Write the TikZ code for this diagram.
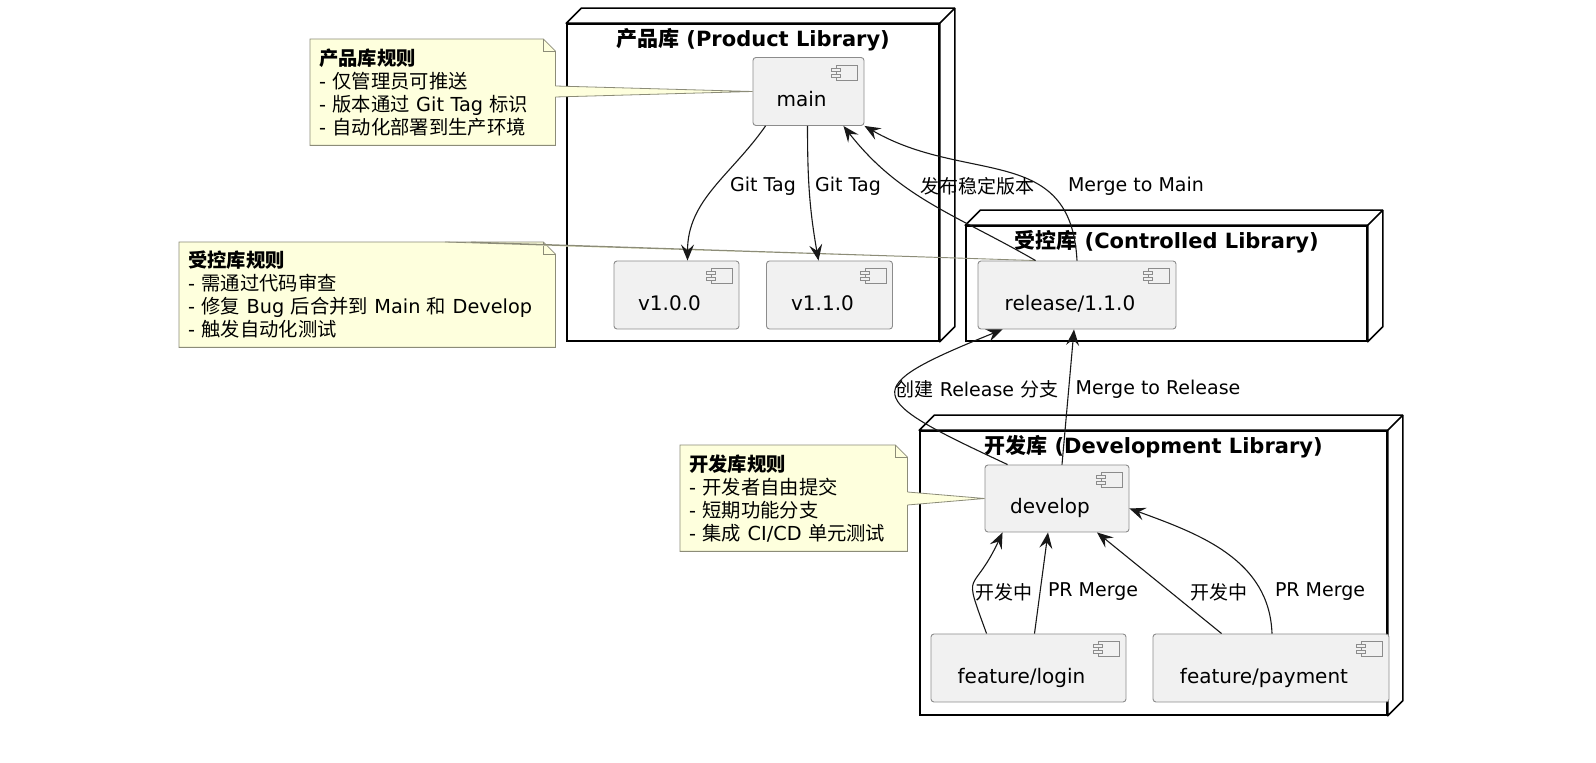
\documentclass[tikz,border=0pt]{standalone}
\usepackage{fontspec}
\setmainfont{DejaVu Sans}
\newfontfamily\cjk{Noto Sans CJK SC}
\usetikzlibrary{arrows.meta}
\newcommand{\zh}[1]{{\cjk #1}}

\begin{document}
\begin{tikzpicture}[x=1pt, y=1pt, every node/.style={font=\fontsize{20}{24}\selectfont}]
			% Define colors
			\definecolor{compfill}{RGB}{241, 241, 241}
			\definecolor{compline}{RGB}{140, 140, 140}
			\definecolor{notefill}{RGB}{254, 255, 221}
			\definecolor{noteline}{RGB}{140, 140, 120}
			\definecolor{edgeline}{RGB}{24, 24, 24}

			% Styles
			\tikzstyle{lib_box} = [draw=black, line width=1.6pt, fill=white, inner sep=0pt]
			\tikzstyle{lib_title} = [font=\fontsize{21}{24}\selectfont\bfseries, anchor=center]
			\tikzstyle{comp_box} = [draw=compline, fill=compfill, line width=0.9pt, rounded corners=3pt, minimum height=68pt, text height=36pt, text depth=5pt, inner sep=0pt]
			\tikzstyle{note_box} = [fill=notefill, anchor=north west, align=left, inner xsep=9pt, inner ysep=0pt, font=\fontsize{19.3}{23}\selectfont]
			\tikzstyle{edge_label} = [font=\fontsize{19}{22}\selectfont, inner sep=1pt]
			\tikzstyle{flow} = [draw=edgeline, line width=1.1pt, -{Stealth[length=16pt, width=13pt, inset=6pt]}]
			\tikzstyle{note_line} = [draw=noteline, line width=0.8pt]

			\useasboundingbox (0, 0) rectangle (1596, 763);

			% Library frames (front faces)
			\node[lib_box, minimum width=372pt, minimum height=317pt] (prodlib) at (753, 580.5) {};
			\node[lib_box, minimum width=401pt, minimum height=115pt] (ctrllib) at (1166.5, 479.5) {};
			\node[lib_box, minimum width=467pt, minimum height=284pt] (devlib) at (1153.5, 190) {};

			% 3D depth of the frames
			\foreach \lib in {prodlib, ctrllib, devlib} {
				\draw[line width=1.6pt, fill=white, line join=round] (\lib.north west) -- ++(15, 15) -- ([shift={(15, 15)}]\lib.north east) -- ([shift={(15, 15)}]\lib.south east) -- (\lib.south east) -- (\lib.north east) -- cycle;
				\draw[line width=1.6pt] (\lib.north east) -- ++(15, 15);
			}

			% Frame titles
			\node[lib_title] (prodtitle) at ([yshift=-17pt]prodlib.north) {\zh{产品库} (Product Library)};
			\node[lib_title] (ctrltitle) at ([yshift=-17pt]ctrllib.north) {\zh{受控库} (Controlled Library)};
			\node[lib_title] (devtitle) at ([yshift=-16pt]devlib.north) {\zh{开发库} (Development Library)};

			% Branch components
			\node[comp_box, minimum width=111pt] (main) at (808.5, 671.5) {main\kern14pt};
			\node[comp_box, minimum width=125pt] (v100) at (676.5, 468) {v1.0.0\kern14pt};
			\node[comp_box, minimum width=126pt] (v110) at (829.5, 468) {v1.1.0\kern14pt};
			\node[comp_box, minimum width=198pt] (release) at (1077, 468) {release/1.1.0\kern14pt};
			\node[comp_box, minimum width=144pt, minimum height=67pt] (develop) at (1057, 264.5) {develop\kern14pt};
			\node[comp_box, minimum width=195pt] (login) at (1028.5, 95) {feature/login\kern14pt};
			\node[comp_box, minimum width=236pt] (payment) at (1271, 95) {feature/payment\kern14pt};

			% Component icons
			\foreach \c in {main, v100, v110, release, develop, login, payment} {
				\draw[compline, fill=compfill, line width=0.8pt] ([shift={(-28, -8)}]\c.north east) rectangle ([shift={(-7, -23)}]\c.north east);
				\draw[compline, fill=compfill, line width=0.8pt] ([shift={(-33, -11)}]\c.north east) rectangle ([shift={(-24, -14)}]\c.north east);
				\draw[compline, fill=compfill, line width=0.8pt] ([shift={(-33, -17)}]\c.north east) rectangle ([shift={(-24, -20)}]\c.north east);
			}

			% Notes
			\node[note_box, minimum width=245pt, minimum height=106pt, text width=227pt] (prodnote) at (310, 724) {\textbf{\zh{产品库规则}}\\- \zh{仅管理员可推送}\\- \zh{版本通过} Git Tag \zh{标识}\\- \zh{自动化部署到生产环境}};
			\node[note_box, minimum width=376pt, minimum height=105pt, text width=358pt] (ctrlnote) at (179, 521) {\textbf{\zh{受控库规则}}\\- \zh{需通过代码审查}\\- \zh{修复} Bug \zh{后合并到} Main \zh{和} Develop\\- \zh{触发自动化测试}};
			\node[note_box, minimum width=227pt, minimum height=106pt, text width=209pt] (devnote) at (680, 318) {\textbf{\zh{开发库规则}}\\- \zh{开发者自由提交}\\- \zh{短期功能分支}\\- \zh{集成} CI/CD \zh{单元测试}};

			% Note outlines with folded corner
			\foreach \n in {prodnote, ctrlnote, devnote} {
				\fill[white] ([xshift=-12pt]\n.north east) -- (\n.north east) -- ([yshift=-12pt]\n.north east) -- cycle;
				\draw[note_line] (\n.north west) -- ([xshift=-12pt]\n.north east) -- ([yshift=-12pt]\n.north east) -- (\n.south east) -- (\n.south west) -- cycle;
				\draw[note_line] ([xshift=-12pt]\n.north east) |- ([yshift=-12pt]\n.north east);
			}

			% Note pointers
			\fill[notefill] ([shift={(-1, -47)}]prodnote.north east) -- (main.west) -- ([shift={(-1, -58)}]prodnote.north east) -- cycle;
			\draw[note_line] ([yshift=-47pt]prodnote.north east) -- (main.west) -- ([yshift=-58pt]prodnote.north east);
			\fill[notefill] ([shift={(266, -1)}]ctrlnote.north west) -- ([xshift=58pt]release.north west) -- ([shift={(292, -1)}]ctrlnote.north west) -- cycle;
			\draw[note_line] ([xshift=266pt]ctrlnote.north west) -- ([xshift=58pt]release.north west) -- ([xshift=292pt]ctrlnote.north west);
			\fill[notefill] ([shift={(-1, -47)}]devnote.north east) -- (develop.west) -- ([shift={(-1, -60)}]devnote.north east) -- cycle;
			\draw[note_line] ([yshift=-47pt]devnote.north east) -- (develop.west) -- ([yshift=-60pt]devnote.north east);

			% Product library edges
			\draw[flow] ([xshift=13pt]main.south west) to[out=-125, in=90] ([xshift=11pt]v100.north);
			\draw[flow] ([xshift=-1pt]main.south) to[out=-90, in=100] ([xshift=-11pt]v110.north);
			\node[edge_label] (tag1) at (763, 577) {Git Tag};
			\node[edge_label] (tag2) at (848, 577) {Git Tag};

			% Controlled to product edges
			\draw[flow] ([xshift=58pt]release.north west) to[out=150, in=-52] ([xshift=-21pt]main.south east);
			\draw[flow] (release.north) to[out=93, in=-30, looseness=1.2] (main.south east);
			\node[edge_label] (publish) at (977, 577) {\zh{发布稳定版本}};
			\node[edge_label] (tomain) at (1136, 577) {Merge to Main};

			% Development to controlled edges
			\draw[flow] ([xshift=23pt]develop.north west) to[out=155, in=-158, looseness=3] ([xshift=25pt]release.south west);
			\draw[flow] ([xshift=5pt]develop.north) -- ([xshift=-3pt]release.south);
			\node[edge_label] (mkrelease) at (977, 374) {\zh{创建} Release \zh{分支}};
			\node[edge_label] (torelease) at (1158, 374) {Merge to Release};

			% Feature branches to develop
			\draw[flow] ([xshift=56pt]login.north west) to[out=110, in=-115, looseness=1.8] ([xshift=18pt]develop.south west);
			\draw[flow] ([xshift=6pt]login.north) -- ([xshift=-9pt]develop.south);
			\draw[flow] ([xshift=69pt]payment.north west) -- ([xshift=40pt]develop.south);
			\draw[flow] ([xshift=1pt]payment.north) to[out=92, in=-20] ([yshift=-10pt]develop.east);
			\node[edge_label] (wip1) at (1004, 171) {\zh{开发中}};
			\node[edge_label] (pr1) at (1093, 171) {PR Merge};
			\node[edge_label] (wip2) at (1219, 171) {\zh{开发中}};
			\node[edge_label] (pr2) at (1320, 171) {PR Merge};

		\end{tikzpicture}
\end{document}
